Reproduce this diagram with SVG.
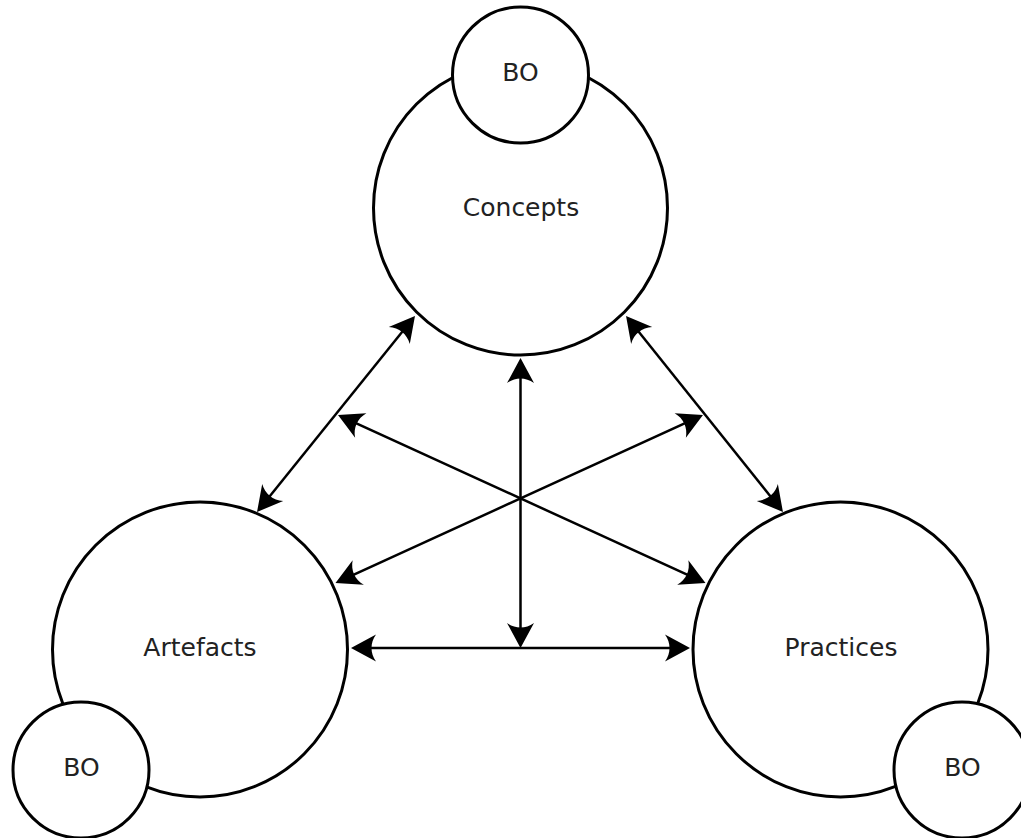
<svg xmlns="http://www.w3.org/2000/svg" width="1021" height="838" viewBox="0 0 1021 838">
<style>
.c{fill:#fff;stroke:#000;stroke-width:3}
.t{font-family:"DejaVu Sans",sans-serif;font-size:25px;fill:#222;text-anchor:middle}
.l{stroke:#000;stroke-width:2.5;fill:none;marker-start:url(#ah);marker-end:url(#ah)}
</style>
<defs>
<marker id="ah" markerUnits="userSpaceOnUse" viewBox="-20 -15 35 30" refX="0" refY="0" markerWidth="35" markerHeight="30" orient="auto-start-reverse" overflow="visible">
<path d="M10,0 L-15,-13.5 C-9,-5 -9,5 -15,13.5 Z" fill="#000"/>
</marker>
</defs>
<rect width="1021" height="838" fill="#fff"/>
<g id="concepts"><circle class="c" cx="520.5" cy="208" r="147"/><text class="t" x="521" y="216">Concepts</text></g>
<g id="artefacts"><circle class="c" cx="200" cy="649.5" r="147.5"/><text class="t" x="200" y="656">Artefacts</text></g>
<g id="practices"><circle class="c" cx="840.5" cy="649.5" r="147.5"/><text class="t" x="841" y="656">Practices</text></g>
<g id="bo-concepts"><circle class="c" cx="520.5" cy="75" r="68"/><text class="t" x="520.5" y="81">BO</text></g>
<g id="bo-artefacts"><circle class="c" cx="81" cy="770" r="68"/><text class="t" x="81.5" y="776">BO</text></g>
<g id="bo-practices"><circle class="c" cx="962" cy="770" r="68"/><text class="t" x="962.5" y="776">BO</text></g>
<g id="connectors">
<line class="l" x1="408.7" y1="323.8" x2="263.3" y2="504.2"/>
<line class="l" x1="632.3" y1="323.8" x2="776.7" y2="504.2"/>
<line class="l" x1="520.5" y1="368" x2="520.5" y2="638"/>
<line class="l" x1="361" y1="648" x2="680" y2="648"/>
<line class="l" x1="347.1" y1="419.2" x2="696.4" y2="578.8"/>
<line class="l" x1="693.9" y1="419.2" x2="344.6" y2="578.8"/>
</g>
</svg>
